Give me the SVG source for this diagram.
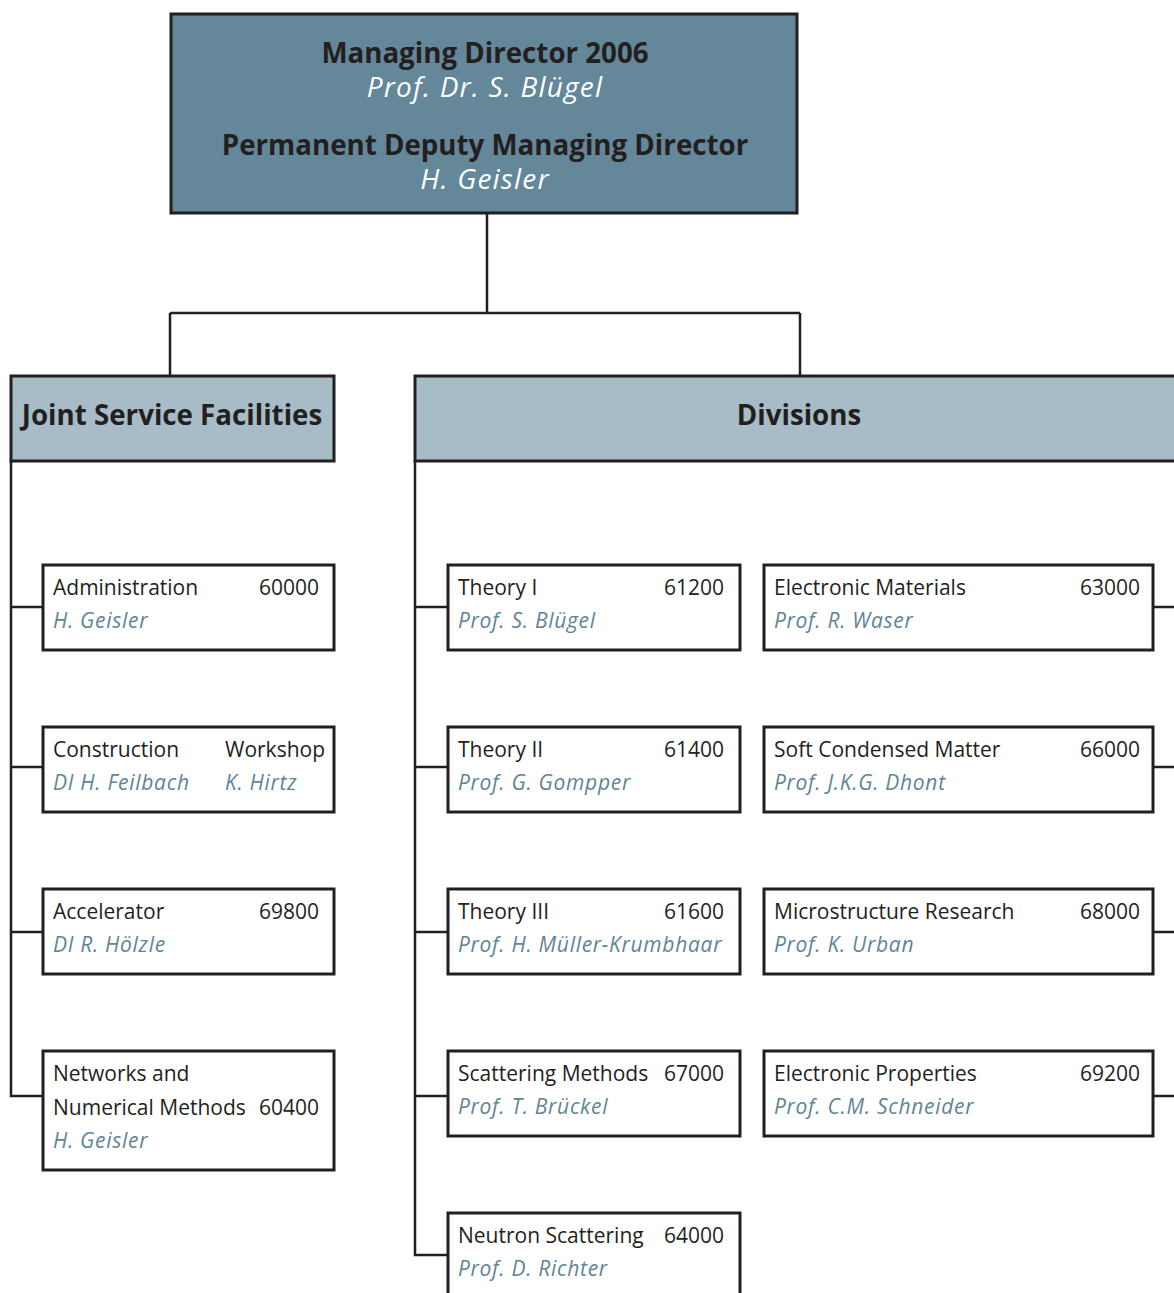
<svg xmlns="http://www.w3.org/2000/svg" width="1174" height="1293" viewBox="0 0 1174 1293">
  <style>
    .box { fill: #ffffff; stroke: #231f20; stroke-width: 3; }
    .top { fill: #64879a; stroke: #231f20; stroke-width: 3; }
    .head { fill: #a7bcc7; stroke: #231f20; stroke-width: 3; }
    .link { fill: none; stroke: #231f20; stroke-width: 2.5; }
    text { font-family: "Open Sans", "Noto Sans", sans-serif; }
    .big { font-size: 27.7px; font-weight: bold; fill: #231f20; text-anchor: middle; }
    .bigname { font-size: 28px; font-style: italic; fill: #ffffff; text-anchor: middle; letter-spacing: 1.2px; }
    .t { font-size: 21px; fill: #231f20; }
    .n { font-size: 21px; fill: #231f20; text-anchor: end; }
    .p { font-size: 21px; font-style: italic; fill: #5f8595; letter-spacing: 0.7px; }
  </style>

  <g id="connectors">
    <path class="link" d="M487 213 V313 M170 313 H800 M170 313 V376 M800 313 V376"/>
    <path class="link" d="M11 461 V1096 H43 M11 607 H43 M11 767 H43 M11 932 H43"/>
    <path class="link" d="M415 461 V1255 H448 M415 607 H448 M415 767 H448 M415 932 H448 M415 1096 H448"/>
    <path class="link" d="M1153 607 H1176 M1153 767 H1176 M1153 932 H1176 M1153 1096 H1176"/>
  </g>

  <g id="director">
    <rect class="top" x="171" y="14" width="626" height="199"/>
    <text class="big" x="485" y="63">Managing Director 2006</text>
    <text class="bigname" x="485" y="97">Prof. Dr. S. Blügel</text>
    <text class="big" x="485" y="155">Permanent Deputy Managing Director</text>
    <text class="bigname" x="485" y="189">H. Geisler</text>
  </g>

  <g id="joint-service">
    <rect class="head" x="11" y="376" width="323" height="85"/>
    <text class="big" x="172" y="425">Joint Service Facilities</text>
  </g>

  <g id="divisions">
    <rect class="head" x="415" y="376" width="765" height="85"/>
    <text class="big" x="799" y="425">Divisions</text>
  </g>

  <g id="administration">
    <rect class="box" x="43" y="565" width="291" height="85"/>
    <text class="t" x="53" y="595">Administration</text>
    <text class="n" x="319" y="595">60000</text>
    <text class="p" x="53" y="628">H. Geisler</text>
  </g>

  <g id="construction-workshop">
    <rect class="box" x="43" y="727" width="291" height="85"/>
    <text class="t" x="53" y="757">Construction</text>
    <text class="t" x="225" y="757">Workshop</text>
    <text class="p" x="53" y="790">DI H. Feilbach</text>
    <text class="p" x="225" y="790">K. Hirtz</text>
  </g>

  <g id="accelerator">
    <rect class="box" x="43" y="889" width="291" height="85"/>
    <text class="t" x="53" y="919">Accelerator</text>
    <text class="n" x="319" y="919">69800</text>
    <text class="p" x="53" y="952">DI R. Hölzle</text>
  </g>

  <g id="networks">
    <rect class="box" x="43" y="1051" width="291" height="119"/>
    <text class="t" x="53" y="1081">Networks and</text>
    <text class="t" x="53" y="1115">Numerical Methods</text>
    <text class="n" x="319" y="1115">60400</text>
    <text class="p" x="53" y="1148">H. Geisler</text>
  </g>

  <g id="theory-1">
    <rect class="box" x="448" y="565" width="292" height="85"/>
    <text class="t" x="458" y="595">Theory I</text>
    <text class="n" x="724" y="595">61200</text>
    <text class="p" x="458" y="628">Prof. S. Blügel</text>
  </g>

  <g id="theory-2">
    <rect class="box" x="448" y="727" width="292" height="85"/>
    <text class="t" x="458" y="757">Theory II</text>
    <text class="n" x="724" y="757">61400</text>
    <text class="p" x="458" y="790">Prof. G. Gompper</text>
  </g>

  <g id="theory-3">
    <rect class="box" x="448" y="889" width="292" height="85"/>
    <text class="t" x="458" y="919">Theory III</text>
    <text class="n" x="724" y="919">61600</text>
    <text class="p" x="458" y="952">Prof. H. Müller-Krumbhaar</text>
  </g>

  <g id="scattering-methods">
    <rect class="box" x="448" y="1051" width="292" height="85"/>
    <text class="t" x="458" y="1081">Scattering Methods</text>
    <text class="n" x="724" y="1081">67000</text>
    <text class="p" x="458" y="1114">Prof. T. Brückel</text>
  </g>

  <g id="neutron-scattering">
    <rect class="box" x="448" y="1213" width="292" height="100"/>
    <text class="t" x="458" y="1243">Neutron Scattering</text>
    <text class="n" x="724" y="1243">64000</text>
    <text class="p" x="458" y="1276">Prof. D. Richter</text>
  </g>

  <g id="electronic-materials">
    <rect class="box" x="764" y="565" width="389" height="85"/>
    <text class="t" x="774" y="595">Electronic Materials</text>
    <text class="n" x="1140" y="595">63000</text>
    <text class="p" x="774" y="628">Prof. R. Waser</text>
  </g>

  <g id="soft-condensed-matter">
    <rect class="box" x="764" y="727" width="389" height="85"/>
    <text class="t" x="774" y="757">Soft Condensed Matter</text>
    <text class="n" x="1140" y="757">66000</text>
    <text class="p" x="774" y="790">Prof. J.K.G. Dhont</text>
  </g>

  <g id="microstructure">
    <rect class="box" x="764" y="889" width="389" height="85"/>
    <text class="t" x="774" y="919">Microstructure Research</text>
    <text class="n" x="1140" y="919">68000</text>
    <text class="p" x="774" y="952">Prof. K. Urban</text>
  </g>

  <g id="electronic-properties">
    <rect class="box" x="764" y="1051" width="389" height="85"/>
    <text class="t" x="774" y="1081">Electronic Properties</text>
    <text class="n" x="1140" y="1081">69200</text>
    <text class="p" x="774" y="1114">Prof. C.M. Schneider</text>
  </g>
</svg>
